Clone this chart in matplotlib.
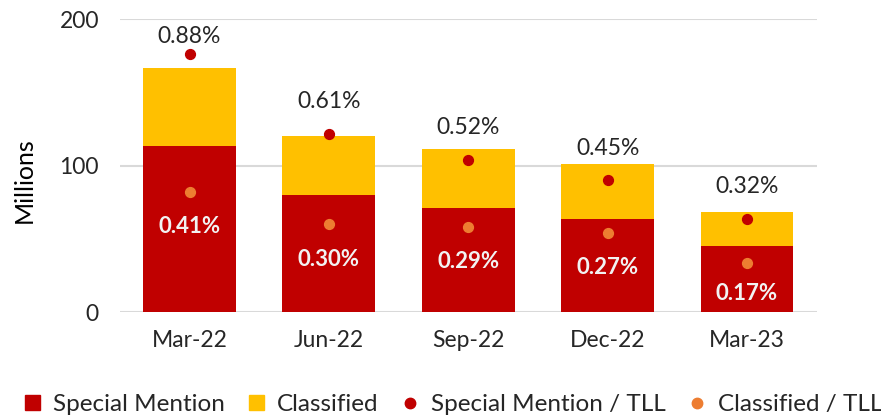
import numpy as np
import matplotlib.pyplot as plt
from matplotlib.lines import Line2D
from matplotlib.patches import Patch

plt.rcParams['font.family'] = ['Lato', 'DejaVu Sans']

# Datos por trimestre (montos en millones, ratios en % del TLL)
trimestres = ['Mar-22', 'Jun-22', 'Sep-22', 'Dec-22', 'Mar-23']
special_mention = [113.5, 80.3, 71.4, 63.5, 45.0]
classified = [53.1, 40.0, 40.0, 37.5, 23.7]
sm_tll = [0.88, 0.61, 0.52, 0.45, 0.32]
cl_tll = [0.41, 0.30, 0.29, 0.27, 0.17]

rojo = '#C00000'
amarillo = '#FFC000'
naranja = '#ED7D31'
gris = '#D9D9D9'
texto = '#262626'

fig = plt.figure(figsize=(8.81, 4.16), dpi=100)
ax = fig.add_axes([0.136, 0.249, 0.791, 0.705])
x = np.arange(len(trimestres))

ax.bar(x, special_mention, width=0.667, color=rojo, zorder=2)
ax.bar(x, classified, width=0.667, bottom=special_mention, color=amarillo, zorder=2)

ax.set_ylim(0, 200)
ax.set_xlim(-0.5, len(trimestres) - 0.5)
ax.set_yticks([0, 100, 200])
ax.yaxis.grid(True, color=gris, linewidth=1.5, zorder=0)
ax.set_axisbelow(True)
for s in ax.spines.values():
    s.set_visible(False)
ax.tick_params(axis='both', length=0, labelsize=16.5, colors=texto)
ax.tick_params(axis='x', pad=13)
ax.tick_params(axis='y', pad=15)
ax.set_xticks(x)
ax.set_xticklabels(trimestres)
ax.set_ylabel('Millions', fontsize=18, color='black')
ax.yaxis.set_label_coords(-0.12, 0.45)

# Eje secundario para los ratios, sin mostrar
ax2 = ax.twinx()
ax2.set_ylim(0, 1.0)
ax2.axis('off')
ax2.scatter(x, sm_tll, s=50, color=rojo, zorder=3)
ax2.scatter(x, cl_tll, s=50, color=naranja, zorder=3)

for xi, v in zip(x, sm_tll):
    y = min(v + 0.11, 0.94)
    ax2.text(xi, y, f'{v:.2f}%', ha='center', va='center', fontsize=16.5, color=texto)
for xi, v in zip(x, cl_tll):
    y = max(v - 0.118, 0.066)
    ax2.text(xi, y, f'{v:.2f}%', ha='center', va='center', fontsize=16,
             color='#F2F2F2', fontweight='bold')

handles = [
    Patch(color=rojo, label='Special Mention'),
    Patch(color=amarillo, label='Classified'),
    Line2D([], [], marker='o', linestyle='none', color=rojo, markersize=7.5, label='Special Mention / TLL'),
    Line2D([], [], marker='o', linestyle='none', color=naranja, markersize=7.5, label='Classified / TLL'),
]
fig.legend(handles=handles, loc='center', bbox_to_anchor=(0.515, 0.027), ncol=4, frameon=False,
           fontsize=17.5, handlelength=0.6, handleheight=0.6, handletextpad=0.55, columnspacing=1.0,
           labelcolor=texto)

fig.savefig('out.png', dpi=100)
